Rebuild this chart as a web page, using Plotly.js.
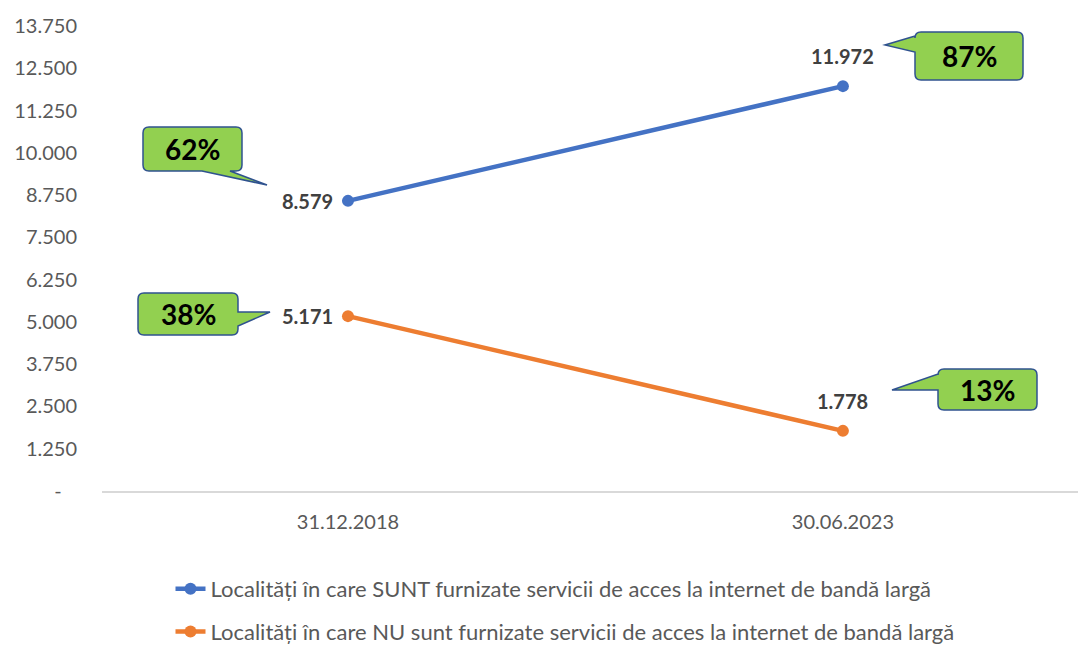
<!DOCTYPE html>
<html>
<head>
<meta charset="utf-8">
<script src="https://cdn.plot.ly/plotly-3.0.1.min.js"></script>
<style>
  html, body { margin: 0; padding: 0; background: #fff; }
  #chart { width: 1078px; height: 646px; }
</style>
</head>
<body>
<div id="chart"></div>
<script>
const dates = ["31.12.2018", "30.06.2023"];
const withNet = [8579, 11972];
const withoutNet = [5171, 1778];
const withPct = ["62%", "87%"];
const withoutPct = ["38%", "13%"];
const yTicks = [0, 1250, 2500, 3750, 5000, 6250, 7500, 8750, 10000, 11250, 12500, 13750];
const yTickText = ["-\u00a0\u00a0\u00a0", "1.250", "2.500", "3.750", "5.000", "6.250", "7.500", "8.750", "10.000", "11.250", "12.500", "13.750"];
const names = [
  "Localități în care SUNT furnizate servicii de acces la internet de bandă largă",
  "Localități în care NU sunt furnizate servicii de acces la internet de bandă largă"
];

const BLUE = "#4472C4", ORANGE = "#ED7D31";
const FONT = "Lato, 'Open Sans', sans-serif";

// plot area in pixels (used to place the callouts in paper units)
const L = 102, R = 1078, T = 26, B = 491;
const px = x => (x - L) / (R - L);
const py = y => (B - y) / (B - T);

function fmt(v) {
  return String(v).replace(/\B(?=(\d{3})+(?!\d))/g, ".");
}

// rounded box with a wedge tail, coordinates in pixels
function callout(x0, y0, x1, y1, tail) {
  const r = 6;
  const P = (x, y) => px(x).toFixed(5) + "," + py(y).toFixed(5);
  let d = "M" + P(x0 + r, y0);
  d += " L" + P(x1 - r, y0) + " Q" + P(x1, y0) + " " + P(x1, y0 + r);
  if (tail.side === "right") d += " L" + P(x1, tail.a) + " L" + P(tail.tx, tail.ty) + " L" + P(x1, tail.b);
  d += " L" + P(x1, y1 - r) + " Q" + P(x1, y1) + " " + P(x1 - r, y1);
  if (tail.side === "bottom") d += " L" + P(tail.b, y1) + " L" + P(tail.tx, tail.ty) + " L" + P(tail.a, y1);
  d += " L" + P(x0 + r, y1) + " Q" + P(x0, y1) + " " + P(x0, y1 - r);
  if (tail.side === "left") d += " L" + P(x0, tail.b) + " L" + P(tail.tx, tail.ty) + " L" + P(x0, tail.a);
  d += " L" + P(x0, y0 + r) + " Q" + P(x0, y0) + " " + P(x0 + r, y0) + " Z";
  return {
    type: "path", xref: "paper", yref: "paper", path: d,
    fillcolor: "#92D050", line: { color: "#2F528F", width: 1.5 }, layer: "above"
  };
}

const boxes = [
  { b: [143, 127, 242, 171], tail: { side: "bottom", a: 202, b: 230, tx: 267, ty: 185 }, text: withPct[0] },
  { b: [915, 32, 1023, 80], tail: { side: "left", a: 36, b: 52, tx: 885, ty: 45 }, text: withPct[1] },
  { b: [138, 293, 238, 335], tail: { side: "right", a: 312, b: 326, tx: 270, ty: 312 }, text: withoutPct[0] },
  { b: [938, 369, 1037, 410], tail: { side: "left", a: 374, b: 390, tx: 892, ty: 390 }, text: withoutPct[1] }
];

const shapes = boxes.map(c => callout(c.b[0], c.b[1], c.b[2], c.b[3], c.tail));

const labelFont = { family: FONT, size: 20, color: "#404040" };
const annotations = [];

// value labels
[withNet, withoutNet].forEach(vals => {
  annotations.push({
    x: dates[0], y: vals[0], xref: "x", yref: "y", text: "<b>" + fmt(vals[0]) + "</b>",
    showarrow: false, xanchor: "right", yanchor: "middle", xshift: -13, font: labelFont
  });
  annotations.push({
    x: dates[1], y: vals[1], xref: "x", yref: "y", text: "<b>" + fmt(vals[1]) + "</b>",
    showarrow: false, xanchor: "center", yanchor: "bottom", yshift: 16, font: labelFont
  });
});

// callout texts
boxes.forEach(c => {
  annotations.push({
    x: px((c.b[0] + c.b[2]) / 2), y: py((c.b[1] + c.b[3]) / 2), xref: "paper", yref: "paper",
    text: "<b>" + c.text + "</b>", showarrow: false, xanchor: "center", yanchor: "middle",
    font: { family: FONT, size: 28, color: "#000" }
  });
});

const traces = [
  {
    x: dates, y: withNet, name: names[0], type: "scatter", mode: "lines+markers",
    line: { color: BLUE, width: 4.5 }, marker: { color: BLUE, size: 12 },
    legendgroup: "a", cliponaxis: false
  },
  {
    x: dates, y: withoutNet, name: names[1], type: "scatter", mode: "lines+markers",
    line: { color: ORANGE, width: 4.5 }, marker: { color: ORANGE, size: 12 },
    legendgroup: "b", cliponaxis: false
  }
];

const layout = {
  width: 1078, height: 646,
  margin: { l: L, r: 1078 - R, t: T, b: 646 - B, autoexpand: false },
  paper_bgcolor: "#fff", plot_bgcolor: "#fff",
  font: { family: FONT, color: "#595959" },
  showlegend: true,
  legend: {
    orientation: "v", x: px(565), xanchor: "center", y: py(568), yanchor: "top",
    traceorder: "grouped", tracegroupgap: 11,
    font: { family: FONT, size: 22, color: "#595959" }
  },
  xaxis: {
    type: "category", range: [-0.497, 1.475], automargin: false,
    showline: true, linecolor: "#D9D9D9", linewidth: 2,
    showgrid: false, zeroline: false, ticks: "",
    tickfont: { family: FONT, size: 20, color: "#595959" },
    ticklabelstandoff: 12
  },
  yaxis: {
    range: [0, 13750], tickvals: yTicks, ticktext: yTickText, automargin: false,
    showline: false, showgrid: false, zeroline: false, ticks: "",
    tickfont: { family: FONT, size: 20, color: "#595959" },
    ticklabelstandoff: 24
  },
  shapes: shapes,
  annotations: annotations
};

Plotly.newPlot("chart", traces, layout, { displayModeBar: false, staticPlot: true });
</script>
</body>
</html>
